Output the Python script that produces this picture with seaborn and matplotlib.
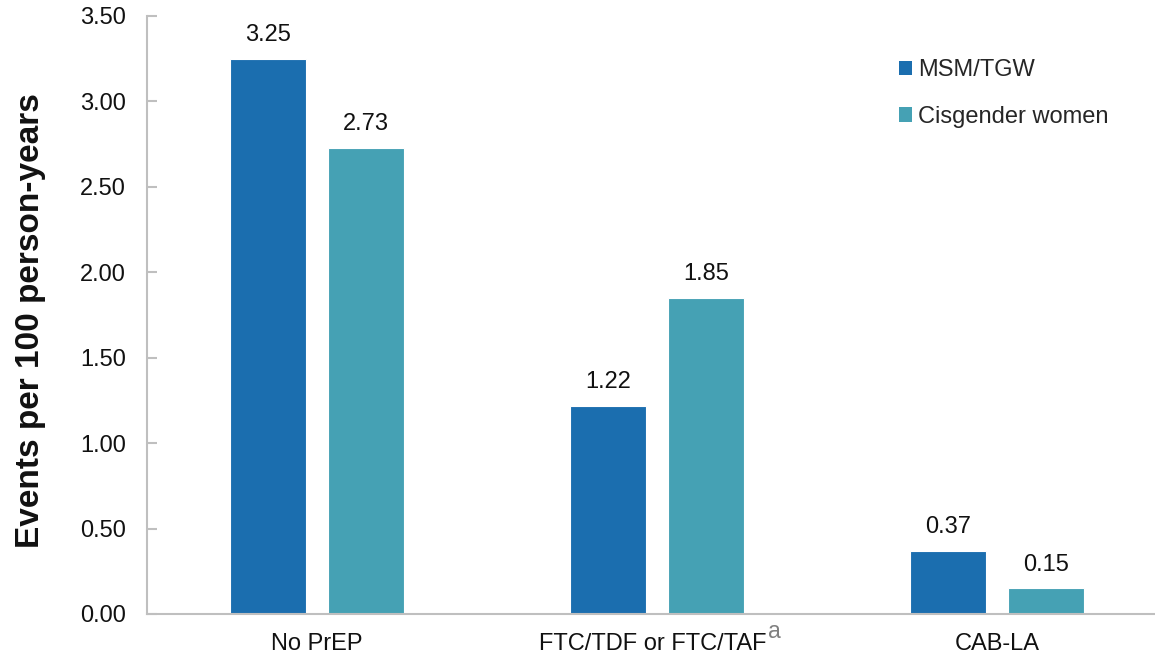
import matplotlib
matplotlib.use("Agg")
import matplotlib.pyplot as plt
from matplotlib.patches import Patch
import matplotlib.transforms as mtransforms
import seaborn as sns
import pandas as pd

categories = ["No PrEP", "FTC/TDF or FTC/TAF", "CAB-LA"]
groups = ["MSM/TGW", "Cisgender women"]
msm_values = [3.25, 1.22, 0.37]
women_values = [2.73, 1.85, 0.15]
colors = ["#1B6EAF", "#45A1B4"]
yticks = [0.0, 0.5, 1.0, 1.5, 2.0, 2.5, 3.0, 3.5]

df = pd.DataFrame({
    "category": categories * 2,
    "group": [groups[0]] * 3 + [groups[1]] * 3,
    "value": msm_values + women_values,
})

sns.set_theme(style="white")
plt.rcParams["font.family"] = ["Liberation Sans", "DejaVu Sans"]

fig = plt.figure(figsize=(11.55, 6.56), dpi=100)
ax = fig.add_axes([147 / 1155, 42 / 656, 1008 / 1155, 598 / 656])

sns.barplot(data=df, x="category", y="value", hue="group", order=categories,
            hue_order=groups, palette=colors, saturation=1, width=0.576, gap=0.224,
            edgecolor="white", linewidth=0.8, ax=ax, legend=False)

for cont in ax.containers:
    ax.bar_label(cont, fmt="%.2f", padding=9, fontsize=17, color="#111111")

ax.set_ylim(0, 3.5)
ax.set_xlim(-0.5, 2.465)
ax.set_yticks(yticks)
ax.set_yticklabels([f"{v:.2f}" for v in yticks])
ax.set_xlabel("")
ax.set_ylabel("Events per 100 person-years", fontsize=24, fontweight="bold", color="#111111")
ax.yaxis.set_label_coords(-0.100, 0.49)

for s in ["top", "right"]:
    ax.spines[s].set_visible(False)
for s in ["left", "bottom"]:
    ax.spines[s].set_color("#BFBFBF")
    ax.spines[s].set_linewidth(1.5)

ax.tick_params(axis="y", direction="in", length=7, width=1.5, color="#BFBFBF",
               labelsize=17, labelcolor="#111111", pad=15, left=True)
ax.tick_params(axis="x", length=0, labelsize=17, labelcolor="#111111", pad=14)

# shift second label slightly left so label + footnote mark are centred
lab = ax.get_xticklabels()[1]
lab.set_transform(lab.get_transform() + mtransforms.ScaledTranslation(-3 / 72, 0, fig.dpi_scale_trans))

handles = [Patch(facecolor=c, edgecolor="none", label=g) for c, g in zip(colors, groups)]
ax.legend(handles=handles, loc="upper left", bbox_to_anchor=(899 / 1155, 1 - 59 / 656),
          bbox_transform=fig.transFigure, frameon=False, fontsize=17,
          handlelength=0.55, handleheight=0.55, handletextpad=0.25,
          labelspacing=1.05, borderpad=0, borderaxespad=0)

# superscript footnote marker after the second category label
fig.canvas.draw()
renderer = fig.canvas.get_renderer()
lab = ax.get_xticklabels()[1]
bb = lab.get_window_extent(renderer)
inv = fig.transFigure.inverted()
x1, y1 = inv.transform((bb.x1 + 1, bb.y1 + 2))
fig.text(x1, y1, "a", fontsize=16.5, color="#808080", ha="left", va="center")

fig.savefig("out.png", dpi=100)
